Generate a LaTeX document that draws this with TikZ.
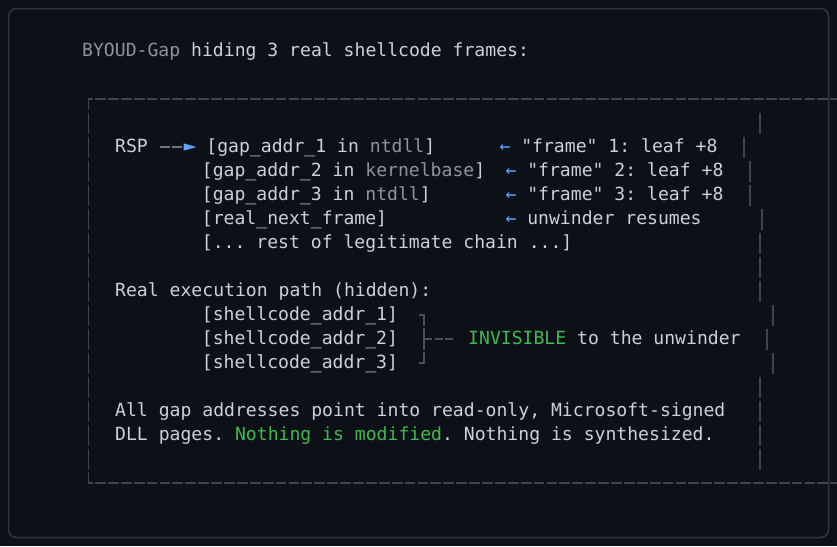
\documentclass[tikz,border=0pt]{standalone}
\usepackage{fontspec}
\setmonofont{DejaVu Sans Mono}
\usetikzlibrary{arrows.meta}
\definecolor{bg}{HTML}{0D1117}
\definecolor{fg}{HTML}{C9D1D9}
\definecolor{muted}{HTML}{8B949E}
\definecolor{faint}{HTML}{6E7681}
\definecolor{accent}{HTML}{58A6FF}
\definecolor{okgreen}{HTML}{3FB950}
\definecolor{panel}{HTML}{30363D}
\definecolor{rule}{HTML}{3D444D}
\definecolor{brace}{HTML}{484F58}
\tikzstyle{txt} = [anchor=west, inner sep=0pt, text height=13pt, text depth=2.5pt, text=fg, font={\ttfamily\fontsize{18.1}{24}\selectfont}]
\tikzstyle{boxrule} = [draw=rule, line width=1.2pt]
\tikzstyle{dashrule} = [boxrule, dash pattern=on 10.8pt off 2.1pt]
\tikzstyle{bracerule} = [draw=brace, line width=1.2pt]
\tikzstyle{rsparrow} = [draw=faint, line width=1.2pt, dash pattern=on 10pt off 1.7pt, -{Triangle[length=13pt,width=7pt,color=accent]}]
\newcommand{\dimtxt}[1]{\textcolor{muted}{#1}}
\newcommand{\oktxt}[1]{\textcolor{okgreen}{#1}}
\newcommand{\larr}{\textcolor{accent}{←}}

\begin{document}
\begin{tikzpicture}[x=1pt,y=-1pt]
  \useasboundingbox (0,0) rectangle (837,546);
  \fill[bg] (0,0) rectangle (837,546);
  \draw[panel,line width=1.5pt,rounded corners=8pt] (8.5,8.5) rectangle (828.5,537.5);

  \node[txt](title) at (82,51.5){\dimtxt{BYOUD-Gap} hiding 3 real shellcode frames:};

  % ascii frame
  \draw[boxrule] (88.5,110) -- (88.5,99) -- (93.3,99);
  \draw[dashrule] (95,99) -- (837,99);
  \draw[boxrule] (88.5,472) -- (88.5,483) -- (93.3,483);
  \draw[dashrule] (95,483) -- (837,483);
  \foreach \r/\x in {0/760,1/744,2/750,3/750,4/762,5/760,6/760,7/760,8/773,9/767,10/773,11/760,12/760,13/760,14/760}{
    \draw[boxrule] (88.5,112.5+24*\r) -- ++(0,21);
    \draw[boxrule] (\x,112.5+24*\r) -- ++(0,21);
  }

  % fake stack
  \node[txt](rsp) at (115,147){RSP};
  \node[txt](gap1) at (206.2,147){[gap\_addr\_1 in \dimtxt{ntdll}]};
  \node[txt](note1) at (499.3,147){\larr{} "frame" 1: leaf +8};
  \node[txt](gap2) at (201.7,171){[gap\_addr\_2 in \dimtxt{kernelbase}]};
  \node[txt](note2) at (505.3,171){\larr{} "frame" 2: leaf +8};
  \node[txt](gap3) at (201.7,195){[gap\_addr\_3 in \dimtxt{ntdll}]};
  \node[txt](note3) at (505.3,195){\larr{} "frame" 3: leaf +8};
  \node[txt](next) at (201.7,219){[real\_next\_frame]};
  \node[txt](note4) at (505.3,219){\larr{} unwinder resumes};
  \node[txt](rest) at (201.7,243){[... rest of legitimate chain ...]};
  \draw[rsparrow,shorten <=12.3pt,shorten >=9.7pt](rsp)--(gap1);

  % hidden path
  \node[txt](real) at (115,291){Real execution path (hidden):};
  \node[txt](sc1) at (201.7,315){[shellcode\_addr\_1]};
  \node[txt](sc2) at (201.7,339){[shellcode\_addr\_2]};
  \node[txt](sc3) at (201.7,363){[shellcode\_addr\_3]};
  \node[txt](invis) at (468,339){\oktxt{INVISIBLE} to the unwinder};
  \draw[bracerule] (419,315) -- (424,315) -- (424,326);
  \draw[bracerule] (424,328) -- (424,350);
  \draw[bracerule] (419,363) -- (424,363) -- (424,352);
  \coordinate (brk) at (424,339);
  \draw[bracerule,dash pattern=on 8pt off 2.5pt,shorten >=12.5pt](brk)--(invis.west);

  % footnote
  \node[txt](ro) at (115,411){All gap addresses point into read-only, Microsoft-signed};
  \node[txt](dll) at (115,435){DLL pages. \oktxt{Nothing is modified}. Nothing is synthesized.};
\end{tikzpicture}
\end{document}
